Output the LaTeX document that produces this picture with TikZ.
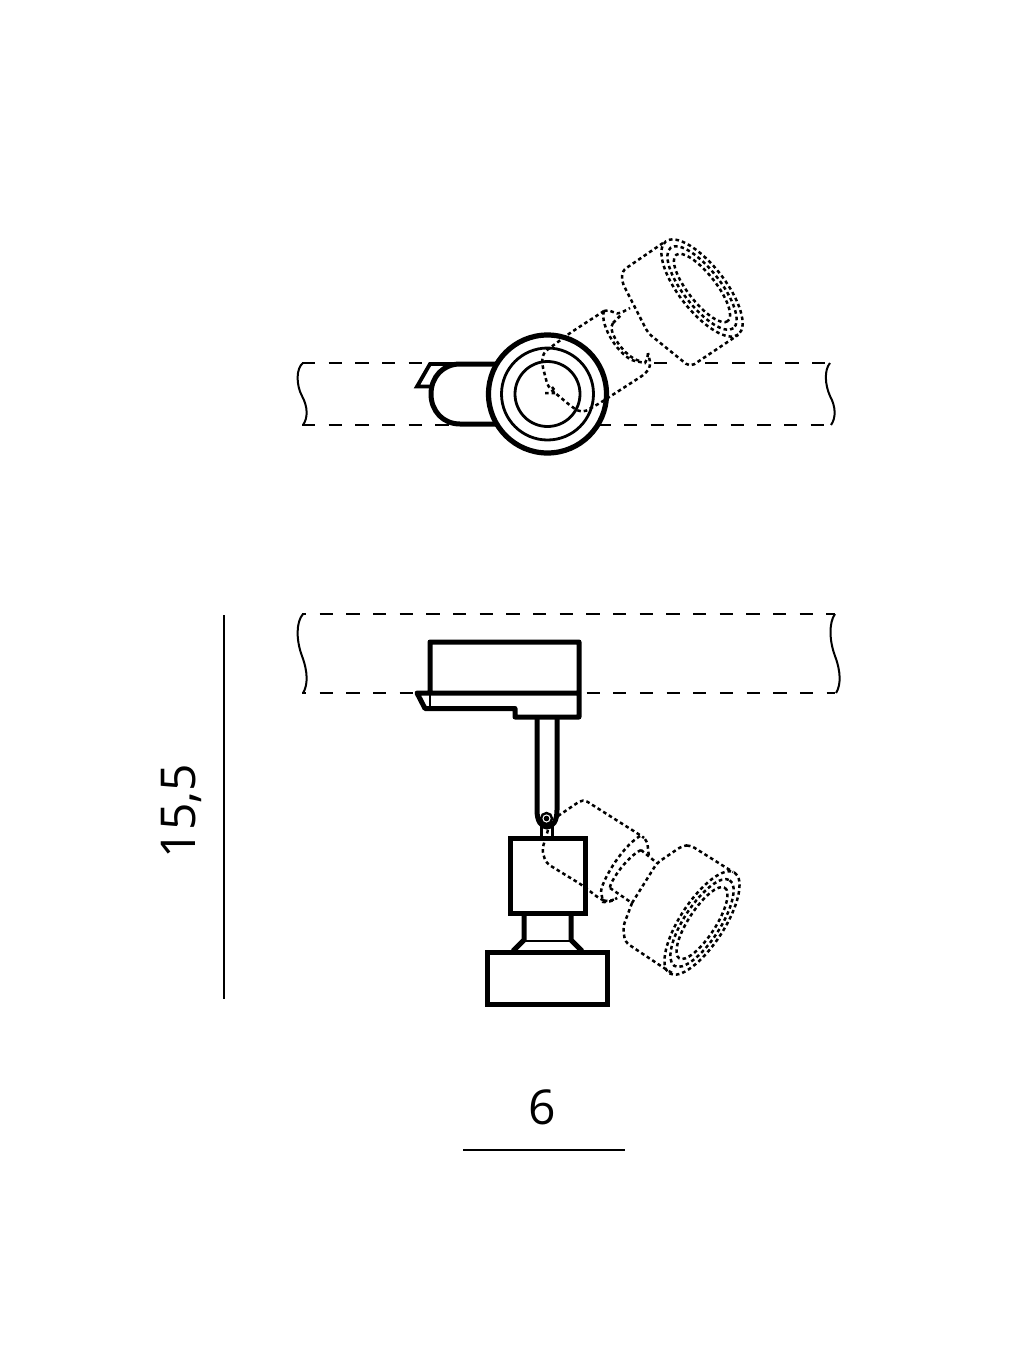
\documentclass[tikz,border=0pt]{standalone}
\usepackage{fontspec}
\setmainfont{Open Sans}
\tikzset{
  solid line/.style={line width=5pt,line join=miter,line cap=butt},
  thin solid/.style={line width=2.8pt},
  track/.style={line width=2.8pt,dash pattern=on 13.3pt off 13.37pt},
  wiggle/.style={line width=2pt},
  dotted line/.style={line width=2.5pt,dash pattern=on 3.6pt off 3pt,rounded corners=5pt},
  lens/.style={dash pattern=on 3.6pt off 3pt,line width=2.5pt},
  dimline/.style={line width=2.2pt},
  dimtext/.style={font=\fontsize{48}{48}\selectfont,inner sep=0pt}
}
\begin{document}
\begin{tikzpicture}[x=1pt,y=-1pt]
\useasboundingbox (0,0) rectangle (1024,1365);
\fill[white] (0,0) rectangle (1024,1365);

% ---------- top view: track
\draw[track] (302,363) -- (428,363);
\draw[track] (654,363) -- (668,363);
\draw[track] (705,363) -- (718,363);
\draw[track] (732,363) -- (830,363);
\draw[track] (302,425) -- (449,425);
\draw[track] (600,425) -- (611,425);
\draw[track] (624,425) -- (830,425);
\draw[wiggle] (303,363) .. controls (296,368) and (296,385) .. (302,396) .. controls (308,407) and (308,418) .. (303,425);
\draw[wiggle] (830,363) .. controls (824,370) and (825,385) .. (830,396) .. controls (836,407) and (836,418) .. (831,425);

% top view: solid parts
\draw[solid line] (497,364) -- (460,364) .. controls (443,364) and (431,377) .. (431,394) .. controls (431,411) and (443,424) .. (460,424) -- (497,424);
\draw[line width=3.8pt,line join=miter] (460,364) -- (430,364) -- (417,386.5) -- (431,386.5);
\draw[line width=5.2pt] (547.5,394) circle[radius=59];
\draw[thin solid] (547.5,394) circle[radius=46];
\draw[thin solid] (547.5,394) circle[radius=32.5];

% top view: dotted lamp
\draw[dotted line] (604,311) -- (609,309) -- (617,315) -- (630,308);
\draw[dotted line] (663,243) -- (622,271) -- (622,282) -- (648,333) -- (690,367) -- (738,335);
\draw[dotted line] (604,311) -- (570,333) -- (543,353) -- (542,364) -- (548,387) -- (572,407) -- (582,413) -- (600,403) -- (645,374) -- (651,366) -- (648,353);
\draw[dotted line] (604,311) .. controls (599,325) and (620,358) .. (640,362) .. controls (645,363) and (648,358) .. (648,353);
\draw[dotted line] (613,323) .. controls (606,330) and (625,358) .. (640,361);
\draw[dotted line] (613,323) -- (617,319) -- (621,315);
\draw[dotted line] (545,393) -- (557,393) (552,387) -- (556,392);
\draw[lens] (702,288) ellipse[x radius=59,y radius=23,rotate=-52];
\draw[lens] (702,288) ellipse[x radius=51,y radius=18.5,rotate=-52];
\draw[lens] (702,288) ellipse[x radius=42,y radius=14,rotate=-52];

% ---------- front view: track
\draw[track,dash phase=9pt] (302,614) -- (835,614);
\draw[track,dash phase=9pt] (302,693) -- (417,693);
\draw[track] (586.5,693) -- (835,693);
\draw[wiggle] (303,614) .. controls (296,622) and (296,640) .. (302,656) .. controls (308,672) and (308,685) .. (303,693);
\draw[wiggle] (835,614) .. controls (829,622) and (829,640) .. (835,656) .. controls (841,672) and (841,685) .. (836,693);

% front view: solid parts
\draw[solid line,line join=round] (430,693) -- (430,642) -- (579,642) -- (579,717) -- (515,717) -- (515,708.5) -- (425,708.5) -- (417,693) -- (579,693);
\draw[line width=1.8pt] (430,693) -- (430,708);
\draw[solid line] (537,717) -- (537,810) .. controls (537,821) and (541,827) .. (547,827) .. controls (553,827) and (557,821) .. (557,810) -- (557,717);
\draw[line width=2.4pt] (546.5,818.5) circle[radius=5.5];
\fill (546.5,818.5) circle[radius=2.8];
\draw[line width=2.2pt] (541.5,826) -- (541.5,838) (552.5,826) -- (552.5,838);
\draw[solid line] (510,838) rectangle (585,913);
\draw[solid line] (524,913) -- (524,940) -- (513,951);
\draw[solid line] (571,913) -- (571,940) -- (582,951);
\draw[line width=2.2pt] (524,941) -- (571,941);
\draw[solid line] (487.5,952) rectangle (607,1004);

% front view: dotted lamp
\draw[dotted line] (558,816) -- (583,799) -- (640,835) -- (647,840) -- (649,857);
\draw[dotted line] (548,830) -- (542,850) -- (546,863) -- (582,885) -- (600,899) -- (608,902) -- (617,898);
\draw[dotted line] (640,836) .. controls (620,848) and (600,885) .. (602,897) .. controls (603,902) and (610,903) .. (617,898);
\draw[dotted line] (641,850) .. controls (625,858) and (608,885) .. (610,889);
\draw[dotted line] (610,888) -- (632,903);
\draw[dotted line] (641,850) -- (657,863);
\draw[dotted line] (632,903) -- (657,863) -- (682,846) -- (690,845) -- (733,872);
\draw[dotted line] (632,903) -- (623,927) -- (625,942) -- (667,970) -- (674,974);
\draw[lens] (702,923) ellipse[x radius=60,y radius=22,rotate=57];
\draw[lens] (702,923) ellipse[x radius=51,y radius=18,rotate=57];
\draw[lens] (702,923) ellipse[x radius=42,y radius=13.5,rotate=57];

% ---------- dimensions
\coordinate (dimvtop) at (224,615);
\coordinate (dimvbot) at (224,999);
\coordinate (dimhl) at (463,1150);
\coordinate (dimhr) at (624.5,1150);
\draw[dimline] (dimvtop) -- (dimvbot);
\draw[dimline] (dimhl) -- (dimhr);
\node[dimtext,rotate=90] (dimv) at (181.5,811) {15,5};
\node[dimtext] (dimh) at (542.5,1107) {6};
\end{tikzpicture}
\end{document}
